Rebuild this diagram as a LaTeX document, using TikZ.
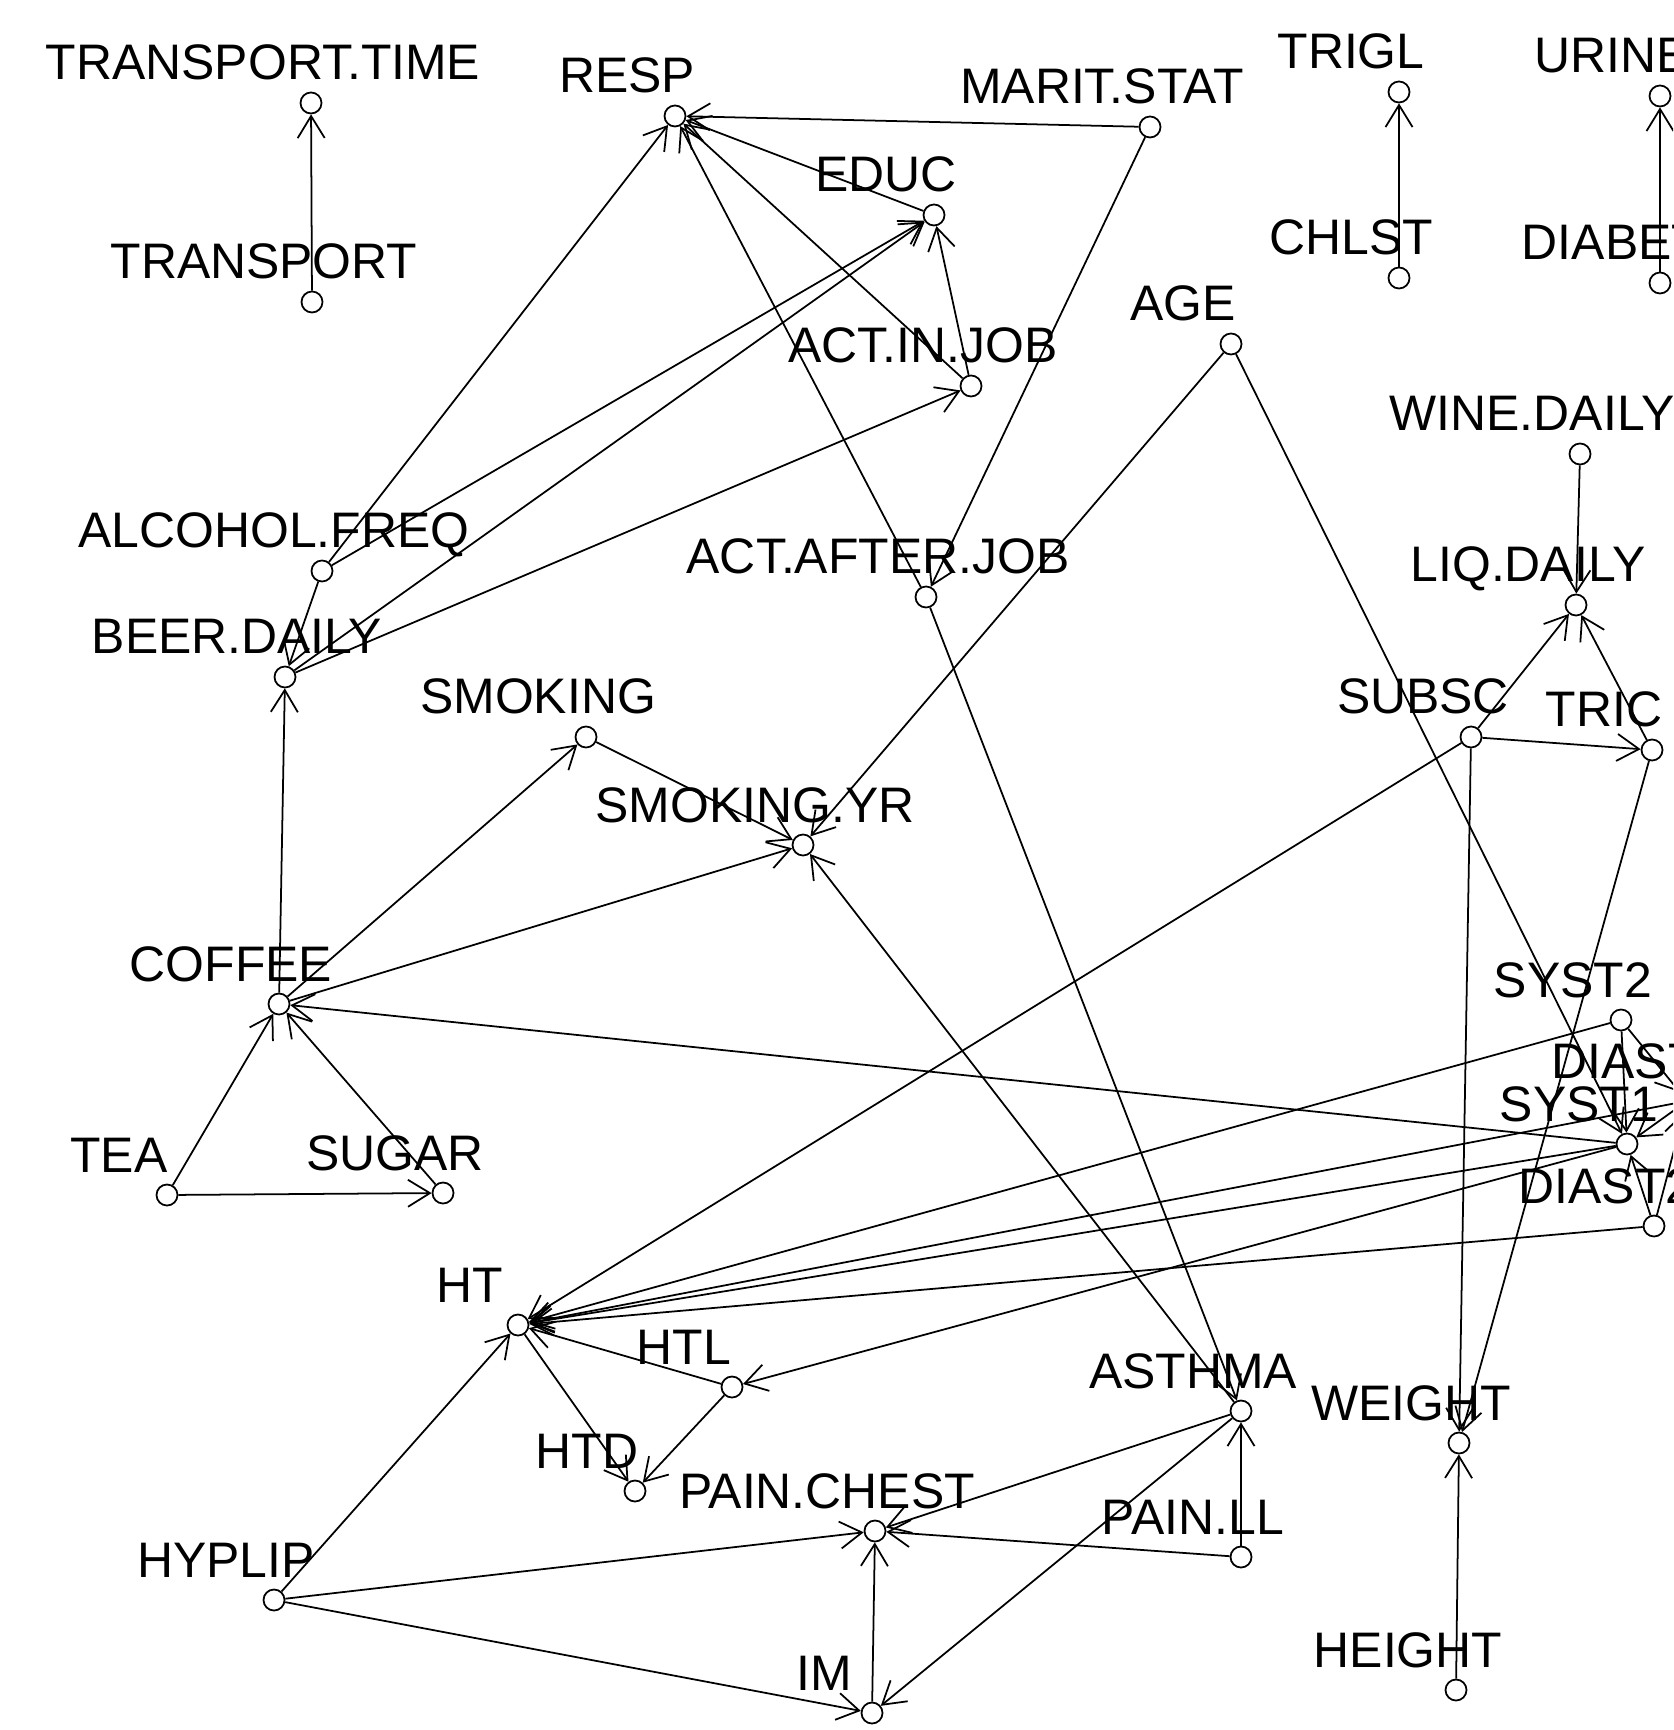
\documentclass[tikz,border=0pt]{standalone}
\usepackage{fontspec}
\setmainfont{Liberation Sans}
\usepackage{tikz}
\usetikzlibrary{arrows.meta}

\begin{document}
\begin{tikzpicture}[
		var/.style={circle, draw=black, line width=0.5pt, minimum size=0.21cm, inner sep=0pt},
		lbl/.style={font=\fontsize{14.2}{16}\selectfont, inner sep=0pt, text height=0.36cm, text depth=0pt, xshift=-0.48cm, yshift=0.41cm},
		edge/.style={-{Straight Barb[length=0.22cm,width=0.27cm]}, line width=0.5pt}]
			\useasboundingbox (0,0) rectangle (16.73,-17.30);
			\clip (0,0) rectangle (16.73,-17.30);
			% variables
			\node[var, label={[lbl]center:TRANSPORT.TIME}] (transptime) at (3.11,-1.03) {};
			\node[var, label={[lbl]center:TRANSPORT}] (transport) at (3.12,-3.02) {};
			\node[var, label={[lbl]center:RESP}] (resp) at (6.75,-1.16) {};
			\node[var, label={[lbl]center:MARIT.STAT}] (marit) at (11.50,-1.27) {};
			\node[var, label={[lbl]center:EDUC}] (educ) at (9.34,-2.15) {};
			\node[var, label={[lbl]center:TRIGL}] (trigl) at (13.99,-0.92) {};
			\node[var, label={[lbl]center:CHLST}] (chlst) at (13.99,-2.78) {};
			\node[var, label={[lbl]center:URINE}] (urine) at (16.60,-0.96) {};
			\node[var, label={[lbl]center:DIABET}] (diabet) at (16.60,-2.83) {};
			\node[var, label={[lbl]center:AGE}] (age) at (12.31,-3.44) {};
			\node[var, label={[lbl]center:ACT.IN.JOB}] (actin) at (9.71,-3.86) {};
			\node[var, label={[lbl]center:WINE.DAILY}] (wine) at (15.80,-4.54) {};
			\node[var, label={[lbl]center:ALCOHOL.FREQ}] (alcohol) at (3.22,-5.71) {};
			\node[var, label={[lbl]center:ACT.AFTER.JOB}] (actafter) at (9.26,-5.97) {};
			\node[var, label={[lbl]center:LIQ.DAILY}] (liq) at (15.76,-6.05) {};
			\node[var, label={[lbl]center:BEER.DAILY}] (beer) at (2.85,-6.77) {};
			\node[var, label={[lbl]center:SMOKING}] (smoking) at (5.86,-7.37) {};
			\node[var, label={[lbl]center:SUBSC}] (subsc) at (14.71,-7.37) {};
			\node[var, label={[lbl]center:TRIC}] (tric) at (16.52,-7.50) {};
			\node[var, label={[lbl]center:SMOKING.YR}] (smokyr) at (8.03,-8.45) {};
			\node[var, label={[lbl]center:COFFEE}] (coffee) at (2.79,-10.04) {};
			\node[var, label={[lbl]center:SYST2}] (syst2) at (16.21,-10.20) {};
			\node[var, label={[lbl]center:DIAST1}] (diast1) at (16.87,-11.01) {};
			\node[var, label={[lbl]center:SYST1}] (syst1) at (16.27,-11.44) {};
			\node[var, label={[lbl]center:TEA}] (tea) at (1.67,-11.95) {};
			\node[var, label={[lbl]center:SUGAR}] (sugar) at (4.43,-11.93) {};
			\node[var, label={[lbl]center:DIAST2}] (diast2) at (16.54,-12.26) {};
			\node[var, label={[lbl]center:HT}] (ht) at (5.18,-13.25) {};
			\node[var, label={[lbl]center:HTL}] (htl) at (7.32,-13.87) {};
			\node[var, label={[lbl]center:ASTHMA}] (asthma) at (12.41,-14.11) {};
			\node[var, label={[lbl]center:WEIGHT}] (weight) at (14.59,-14.43) {};
			\node[var, label={[lbl]center:HTD}] (htd) at (6.35,-14.91) {};
			\node[var, label={[lbl]center:PAIN.CHEST}] (painchest) at (8.75,-15.31) {};
			\node[var, label={[lbl]center:PAIN.LL}] (painll) at (12.41,-15.57) {};
			\node[var, label={[lbl]center:HYPLIP}] (hyplip) at (2.74,-16.00) {};
			\node[var, label={[lbl]center:HEIGHT}] (height) at (14.56,-16.90) {};
			\node[var, label={[lbl]center:IM}] (im) at (8.72,-17.13) {};
			% arcs
			\draw[edge] (transport) -- (transptime);
			\draw[edge] (chlst) -- (trigl);
			\draw[edge] (diabet) -- (urine);
			\draw[edge] (marit) -- (resp);
			\draw[edge] (educ) -- (resp);
			\draw[edge] (actin) -- (resp);
			\draw[edge] (actafter) -- (resp);
			\draw[edge] (alcohol) -- (resp);
			\draw[edge] (marit) -- (actafter);
			\draw[edge] (actin) -- (educ);
			\draw[edge] (alcohol) -- (educ);
			\draw[edge] (beer) -- (educ);
			\draw[edge] (beer) -- (actin);
			\draw[edge] (alcohol) -- (beer);
			\draw[edge] (coffee) -- (beer);
			\draw[edge] (coffee) -- (smoking);
			\draw[edge] (coffee) -- (smokyr);
			\draw[edge] (smoking) -- (smokyr);
			\draw[edge] (age) -- (smokyr);
			\draw[edge] (asthma) -- (smokyr);
			\draw[edge] (actafter) -- (asthma);
			\draw[edge] (age) -- (syst1);
			\draw[edge] (wine) -- (liq);
			\draw[edge] (subsc) -- (liq);
			\draw[edge] (tric) -- (liq);
			\draw[edge] (subsc) -- (tric);
			\draw[edge] (subsc) -- (ht);
			\draw[edge] (subsc) -- (weight);
			\draw[edge] (tric) -- (weight);
			\draw[edge] (height) -- (weight);
			\draw[edge] (syst1) -- (coffee);
			\draw[edge] (tea) -- (coffee);
			\draw[edge] (sugar) -- (coffee);
			\draw[edge] (tea) -- (sugar);
			\draw[edge] (syst2) -- (ht);
			\draw[edge] (diast1) -- (ht);
			\draw[edge] (syst1) -- (ht);
			\draw[edge] (diast2) -- (ht);
			\draw[edge] (syst1) -- (htl);
			\draw[edge] (syst2) -- (syst1);
			\draw[edge] (syst2) -- (diast1);
			\draw[edge] (diast1) -- (syst1);
			\draw[edge] (diast2) -- (syst1);
			\draw[edge] (diast2) -- (diast1);
			\draw[edge] (htl) -- (ht);
			\draw[edge] (ht) -- (htd);
			\draw[edge] (htl) -- (htd);
			\draw[edge] (hyplip) -- (ht);
			\draw[edge] (hyplip) -- (painchest);
			\draw[edge] (hyplip) -- (im);
			\draw[edge] (im) -- (painchest);
			\draw[edge] (asthma) -- (painchest);
			\draw[edge] (painll) -- (painchest);
			\draw[edge] (painll) -- (asthma);
			\draw[edge] (asthma) -- (im);
		\end{tikzpicture}
\end{document}
